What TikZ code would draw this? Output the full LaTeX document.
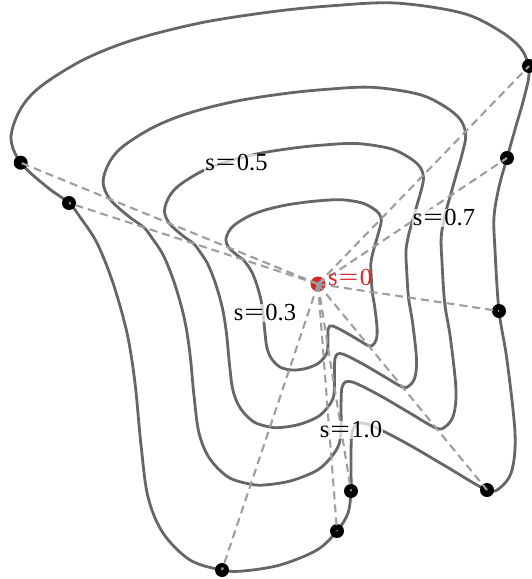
\documentclass[tikz,border=0pt]{standalone}
\usepackage{fontspec}
\usepackage{graphicx}
\setmainfont{Liberation Serif}
\definecolor{curvegray}{RGB}{102,102,102}
\definecolor{dashgray}{RGB}{158,158,158}
\definecolor{ptred}{RGB}{214,39,40}
\newcommand{\lbl}[1]{s\hspace{0.04em}\scalebox{1.42}[1]{=}\hspace{0.06em}#1}
\begin{document}
\begin{tikzpicture}[x=1pt,y=-1pt,
  curve/.style={draw=curvegray, line width=2.8pt},
  spoke/.style={draw=dashgray, line width=2.1pt, dash pattern=on 8pt off 5pt},
  ctrl/.style={circle, fill=black, inner sep=0pt, minimum size=14pt},
  origin/.style={circle, fill=ptred, inner sep=0pt, minimum size=15pt},
  lab/.style={font=\fontsize{24.5}{24.5}\selectfont, fill=white, fill opacity=0.7, text opacity=1, inner sep=1pt}]
\useasboundingbox (0,0) rectangle (532,579);
\foreach \s in {0.3,0.5,0.7,1.0}{
  \begin{scope}[shift={(318,284)}, scale=\s, shift={(-318,-284)}]
    \draw[curve] plot[smooth cycle, tension=0.55] coordinates {
      (20.7,162.7) (11,138) (20,110) (40,87) (83,60) (133,40) (200,23) (270,12)
      (329,6) (395,3) (462,13) (500,31) (522,50) (529,72) (524,98) (516,126)
      (507,158) (499,187) (494,217) (495,250) (499,311) (507,360) (515,433)
      (512,470) (501,487) (487,490) (447,467) (413,447) (385,432) (367,424)
      (357,424) (352,433) (351,452) (351,472) (351,491) (348,513) (337,531)
      (317,550) (280,565) (243,571) (222,570) (190,560) (163,533) (148,497)
      (141,445) (135,383) (127,333) (113,283) (97,243) (80,217) (69,203) (47,187)};
  \end{scope}
}
\node[origin] (c) at (318,284) {};
\node[ctrl] (l1) at (20.7,162.7) {};
\node[ctrl] (l2) at (69,203) {};
\node[ctrl] (r1) at (529,66) {};
\node[ctrl] (r2) at (507,158) {};
\node[ctrl] (r3) at (499,311) {};
\node[ctrl] (br) at (487,490) {};
\node[ctrl] (m1) at (351,491) {};
\node[ctrl] (m2) at (337,531) {};
\node[ctrl] (b) at (222,570) {};
\foreach \p in {l1,l2,r1,r2,r3,br,m1,m2,b}{
  \draw[spoke] (c.center) -- (\p.center);
}
\node[lab] (t05) at (236.5,163) {\lbl{0.5}};
\node[lab] (t07) at (444,218) {\lbl{0.7}};
\node[lab] (t03) at (265,313) {\lbl{0.3}};
\node[lab] (t10) at (351,430) {\lbl{1.0}};
\node[font=\fontsize{24.5}{24.5}\selectfont, text=ptred, anchor=west, inner sep=0pt] (t0) at (328,277) {\lbl{0}};
\end{tikzpicture}
\end{document}
